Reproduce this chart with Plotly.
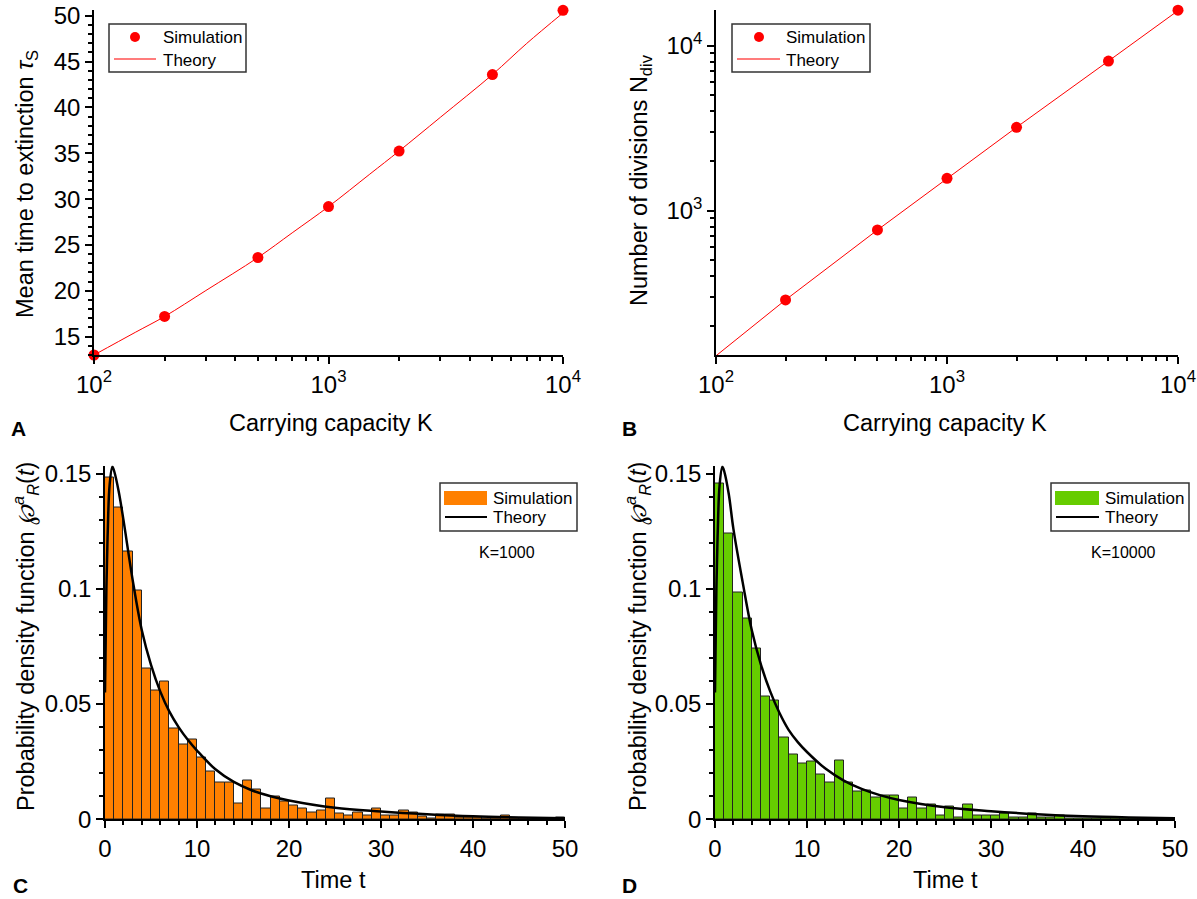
import plotly.graph_objects as go

W, H = 1197, 899

# ---------------- data ----------------
K_sim = [100, 200, 500, 1000, 2000, 5000, 10000]
tau_sim = [13.0, 17.2, 23.63, 29.18, 35.24, 43.58, 50.58]
K_theory = [100, 150, 200, 300, 500, 700, 1000, 1500, 2000, 3000, 5000, 7000, 10000]
tau_theory = [13.0, 15.47, 17.2, 20.03, 23.63, 26.32, 29.18, 32.72, 35.24, 38.92, 43.58, 46.97, 50.3]

ndiv_sim = [132, 288, 764, 1571, 3200, 8070, 16400]
ndiv_theory = [132, 288, 764, 1571, 3200, 8070, 16300]

bin_centers = [i + 0.5 for i in range(50)]
pdf_c = [0.1481, 0.1352, 0.1163, 0.0993, 0.0655, 0.0558, 0.0597, 0.0396, 0.0324, 0.0347,
         0.0269, 0.0208, 0.0158, 0.0158, 0.0070, 0.0168, 0.0128, 0.0048, 0.0099, 0.0078,
         0.0058, 0.0048, 0.0029, 0.0039, 0.0089, 0.0026, 0.0016, 0.0030, 0.0016, 0.0046,
         0.0016, 0.0016, 0.0038, 0.0029, 0.0012, 0.0003, 0.0019, 0.0019, 0.0009, 0.0009,
         0.0006, 0.0003, 0.0003, 0.0017, 0.0003, 0.0003, 0.0004, 0.0002, 0.0003, 0.0007]
pdf_d = [0.1457, 0.1240, 0.0986, 0.0873, 0.0742, 0.0534, 0.0517, 0.0357, 0.0282, 0.0244,
         0.0251, 0.0196, 0.0160, 0.0253, 0.0160, 0.0122, 0.0123, 0.0093, 0.0102, 0.0102,
         0.0045, 0.0093, 0.0045, 0.0065, 0.0017, 0.0055, 0.0010, 0.0065, 0.0016, 0.0016,
         0.0016, 0.0025, 0.0007, 0.0009, 0.0026, 0.0007, 0.0009, 0.0015, 0.0002, 0.0002,
         0.0002, 0.0002, 0.0002, 0.0002, 0.0004, 0.0002, 0.0004, 0.0002, 0.0002, 0.0005]

t_theory = [0, 0.15, 0.3, 0.5, 0.8, 1.0, 1.5, 2, 3, 4, 5, 6, 7, 8, 9, 10, 12, 14, 16, 18, 20,
            25, 30, 35, 40, 45, 50]
theory_c = [0.055, 0.100, 0.125, 0.145, 0.153, 0.151, 0.142, 0.130, 0.104, 0.082, 0.0670, 0.0555,
            0.0467, 0.0400, 0.0345, 0.0298, 0.0217, 0.0162, 0.0125, 0.0100, 0.0082,
            0.0050, 0.0034, 0.0022, 0.0013, 0.0008, 0.0005]
theory_d = [0.055, 0.100, 0.125, 0.145, 0.153, 0.151, 0.141, 0.126, 0.103, 0.082, 0.0670, 0.0555,
            0.0462, 0.0388, 0.0335, 0.0292, 0.0220, 0.0168, 0.0131, 0.0104, 0.0084,
            0.0052, 0.0035, 0.0022, 0.0013, 0.0008, 0.0005]

RED = "#FF0000"
ORANGE = "#FF8000"
GREEN = "#66CC00"
FONT = "Liberation Sans, Arial, sans-serif"


def px(x):
    return x / W


def py(y):
    return 1 - y / H


fig = go.Figure()

# Panel A
fig.add_trace(go.Scatter(x=K_theory, y=tau_theory, mode="lines", line=dict(color=RED, width=1, shape="spline"),
                         xaxis="x", yaxis="y", showlegend=False))
fig.add_trace(go.Scatter(x=K_sim, y=tau_sim, mode="markers", marker=dict(color=RED, size=11),
                         xaxis="x", yaxis="y", showlegend=False, cliponaxis=False))
# Panel B
fig.add_trace(go.Scatter(x=K_sim, y=ndiv_theory, mode="lines", line=dict(color=RED, width=1),
                         xaxis="x2", yaxis="y2", showlegend=False))
fig.add_trace(go.Scatter(x=K_sim, y=ndiv_sim, mode="markers", marker=dict(color=RED, size=11),
                         xaxis="x2", yaxis="y2", showlegend=False, cliponaxis=False))
# Panel C
fig.add_trace(go.Bar(x=bin_centers, y=pdf_c, width=1, marker=dict(color=ORANGE, line=dict(color="#222", width=1)),
                     xaxis="x3", yaxis="y3", showlegend=False))
fig.add_trace(go.Scatter(x=t_theory, y=theory_c, mode="lines", line=dict(color="black", width=2.5, shape="spline"),
                         xaxis="x3", yaxis="y3", showlegend=False, cliponaxis=False))
# Panel D
fig.add_trace(go.Bar(x=bin_centers, y=pdf_d, width=1, marker=dict(color=GREEN, line=dict(color="#222", width=1)),
                     xaxis="x4", yaxis="y4", showlegend=False))
fig.add_trace(go.Scatter(x=t_theory, y=theory_d, mode="lines", line=dict(color="black", width=2.5, shape="spline"),
                         xaxis="x4", yaxis="y4", showlegend=False, cliponaxis=False))

tickfont = dict(family=FONT, size=24, color="black")
TITLE_SIZE = 23.5

common = dict(showline=True, linecolor="black", linewidth=1.5, ticks="outside", ticklen=7, tickwidth=1.5,
              tickcolor="black", tickfont=tickfont, showgrid=False, zeroline=False, mirror=False,
              automargin=False)

log_major = [100, 1000, 10000]
log_minor = [200, 300, 400, 500, 600, 700, 800, 900, 2000, 3000, 4000, 5000, 6000, 7000, 8000, 9000]
log_text = ["10<sup>2</sup>", "10<sup>3</sup>", "10<sup>4</sup>"]
B_minor = [200, 300, 400, 500, 600, 700, 800, 900, 2000, 3000, 4000, 5000, 6000, 7000, 8000, 9000, 20000]

xA = [px(94), px(563)]
xB = [px(716), px(1178)]
yTop = [py(355), py(10)]
xC = [px(105), px(565)]
xD = [px(715), px(1175)]
yBot = [py(819.3), py(465.5)]

minor_style = dict(ticks="outside", ticklen=4, tickwidth=1.5, tickcolor="black")

fig.update_layout(
    width=W, height=H, margin=dict(l=0, r=0, t=0, b=0, autoexpand=False),
    paper_bgcolor="white", plot_bgcolor="white", showlegend=False, bargap=0,
    font=dict(family=FONT, color="black"),
    xaxis=dict(common, domain=xA, anchor="y", type="log", range=[2, 4], tickvals=log_major, ticktext=log_text,
               minor=dict(minor_style, tickvals=log_minor)),
    yaxis=dict(common, domain=yTop, anchor="x", range=[13, 50.62], tickvals=[15, 20, 25, 30, 35, 40, 45, 50],
               minor=dict(minor_style, dtick=1)),
    xaxis2=dict(common, domain=xB, anchor="y2", type="log", range=[2, 4], tickvals=log_major, ticktext=log_text,
                minor=dict(minor_style, tickvals=log_minor)),
    yaxis2=dict(common, domain=yTop, anchor="x2", type="log", range=[2.1255, 4.216], tickvals=[1000, 10000],
                ticktext=["10<sup>3</sup>", "10<sup>4</sup>"], minor=dict(minor_style, tickvals=B_minor)),
    xaxis3=dict(common, domain=xC, anchor="y3", range=[0, 50], tickvals=[0, 10, 20, 30, 40, 50],
                minor=dict(minor_style, dtick=2)),
    yaxis3=dict(common, domain=yBot, anchor="x3", range=[0, 0.1535], tickvals=[0, 0.05, 0.1, 0.15],
                ticktext=["0", "0.05", "0.1", "0.15"], minor=dict(minor_style, dtick=0.01)),
    xaxis4=dict(common, domain=xD, anchor="y4", range=[0, 50], tickvals=[0, 10, 20, 30, 40, 50],
                minor=dict(minor_style, dtick=2)),
    yaxis4=dict(common, domain=yBot, anchor="x4", range=[0, 0.1535], tickvals=[0, 0.05, 0.1, 0.15],
                ticktext=["0", "0.05", "0.1", "0.15"], minor=dict(minor_style, dtick=0.01)),
)

shapes = []
annotations = []


def box(x0, y0, x1, y1):
    shapes.append(dict(type="rect", xref="paper", yref="paper", x0=px(x0), x1=px(x1), y0=py(y1), y1=py(y0),
                       line=dict(color="#333", width=1.5), fillcolor="rgba(0,0,0,0)"))


def text(x, y, s, size=17, xanchor="left", bold=False, angle=0):
    annotations.append(dict(xref="paper", yref="paper", x=px(x), y=py(y), text=("<b>%s</b>" % s) if bold else s,
                            showarrow=False, xanchor=xanchor, yanchor="middle", textangle=angle,
                            font=dict(family=FONT, size=size, color="black")))


# Axis titles
text(331, 423, "Carrying capacity K", size=TITLE_SIZE, xanchor="center")
text(945, 423, "Carrying capacity K", size=TITLE_SIZE, xanchor="center")
text(333, 880, "Time t", size=TITLE_SIZE, xanchor="center")
text(945, 880, "Time t", size=TITLE_SIZE, xanchor="center")
text(27, 184, "Mean time to extinction <i>τ</i><sub>S</sub>", size=TITLE_SIZE, xanchor="center", angle=-90)
text(640, 180, "Number of divisions N<sub>div</sub>", size=TITLE_SIZE, xanchor="center", angle=-90)
pdf_title = "Probability density function <i>℘</i><sup><i>a</i></sup><sub><i>R</i></sub>(<i>t</i>)"
text(25, 637, pdf_title, size=TITLE_SIZE, xanchor="center", angle=-90)
text(637, 637, pdf_title, size=TITLE_SIZE, xanchor="center", angle=-90)

# Legend A
box(109, 24, 246, 72)
shapes.append(dict(type="circle", xref="paper", yref="paper", x0=px(130), x1=px(140), y0=py(42), y1=py(32),
                   fillcolor=RED, line=dict(color=RED, width=0)))
shapes.append(dict(type="line", xref="paper", yref="paper", x0=px(114), x1=px(156), y0=py(59), y1=py(59),
                   line=dict(color="#FF5050", width=1.5)))
text(161, 37, "Simulation")
text(161, 60, "Theory")
# Legend B
box(732, 24, 870, 72)
shapes.append(dict(type="circle", xref="paper", yref="paper", x0=px(754), x1=px(764), y0=py(42), y1=py(32),
                   fillcolor=RED, line=dict(color=RED, width=0)))
shapes.append(dict(type="line", xref="paper", yref="paper", x0=px(737), x1=px(780), y0=py(59), y1=py(59),
                   line=dict(color="#FF5050", width=1.5)))
text(784, 37, "Simulation")
text(784, 60, "Theory")
# Legend C
box(440, 483, 577, 531)
shapes.append(dict(type="rect", xref="paper", yref="paper", x0=px(444), x1=px(487), y0=py(505), y1=py(491),
                   fillcolor=ORANGE, line=dict(width=0)))
shapes.append(dict(type="line", xref="paper", yref="paper", x0=px(445), x1=px(487), y0=py(517), y1=py(517),
                   line=dict(color="black", width=2)))
text(491, 498, "Simulation")
text(491, 517, "Theory")
text(507, 552, "K=1000", size=16, xanchor="center")
# Legend D
box(1051, 483, 1189, 531)
shapes.append(dict(type="rect", xref="paper", yref="paper", x0=px(1055), x1=px(1099), y0=py(505), y1=py(491),
                   fillcolor=GREEN, line=dict(width=0)))
shapes.append(dict(type="line", xref="paper", yref="paper", x0=px(1056), x1=px(1099), y0=py(517), y1=py(517),
                   line=dict(color="black", width=2)))
text(1103, 498, "Simulation")
text(1103, 517, "Theory")
text(1123, 552, "K=10000", size=16, xanchor="center")

# Panel letters
text(18, 428, "A", size=21, xanchor="center", bold=True)
text(629, 428, "B", size=21, xanchor="center", bold=True)
text(20, 885, "C", size=21, xanchor="center", bold=True)
text(629, 885, "D", size=21, xanchor="center", bold=True)

fig.update_layout(shapes=shapes, annotations=annotations)

fig.write_html("out.html", config={"displayModeBar": False},
               post_script="document.body.style.margin='0';document.body.style.overflow='hidden';")
